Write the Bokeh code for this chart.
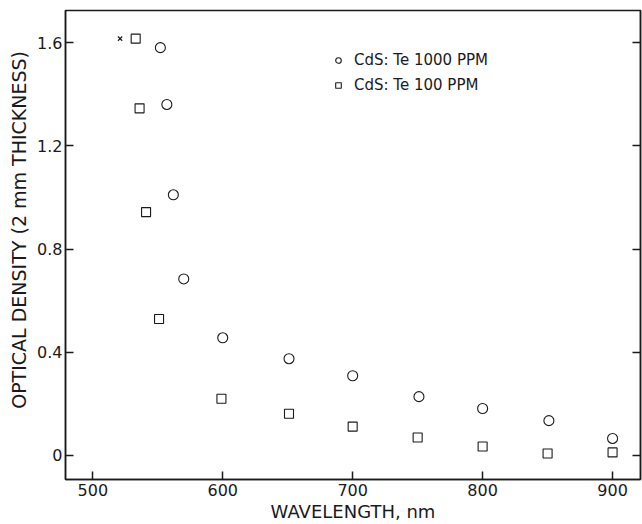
from bokeh.plotting import figure
from bokeh.models import Legend, LegendItem, LinearAxis, FixedTicker, Range1d
from bokeh.embed import file_html
from bokeh.resources import INLINE

# Data
wl_1000 = [552, 557, 562, 570, 600, 651, 700, 751, 800, 851, 900]
od_1000 = [1.58, 1.36, 1.01, 0.684, 0.456, 0.375, 0.309, 0.228, 0.182, 0.135, 0.066]

wl_100 = [533, 536, 541, 551, 599, 651, 700, 750, 800, 850, 900]
od_100 = [1.615, 1.345, 0.943, 0.529, 0.22, 0.162, 0.112, 0.07, 0.035, 0.008, 0.012]

wl_x = [521]
od_x = [1.615]

x_ticks = [500, 600, 700, 800, 900]
y_ticks = [0, 0.4, 0.8, 1.2, 1.6]
y_tick_labels = ["0", "0.4", "0.8", "1.2", "1.6"]

label_1000 = "CdS: Te 1000 PPM"
label_100 = "CdS: Te 100 PPM"

FONT = "DejaVu Sans"
INK = "#1a1a1a"

p = figure(width=642, height=524, output_backend="svg", toolbar_location=None,
           x_range=Range1d(479, 921.5), y_range=Range1d(-0.093, 1.724),
           min_border_left=65, min_border_right=2, min_border_top=10, min_border_bottom=44)

p.grid.visible = False
p.background_fill_color = "white"
p.border_fill_color = "white"
p.outline_line_color = INK
p.outline_line_width = 1.5

r1 = p.scatter(wl_1000, od_1000, marker="circle", size=10, fill_color=None,
               line_color=INK, line_width=1.1)
r2 = p.scatter(wl_100, od_100, marker="square", size=9, fill_color=None,
               line_color=INK, line_width=1.1)
p.scatter(wl_x, od_x, marker="x", size=6, line_color=INK, line_width=1.2)

for ax in (p.xaxis[0], p.yaxis[0]):
    ax.major_tick_in = 8
    ax.major_tick_out = 0
    ax.minor_tick_in = 0
    ax.minor_tick_out = 0
    ax.axis_line_color = INK
    ax.axis_line_width = 1.5
    ax.major_tick_line_color = INK
    ax.major_tick_line_width = 1.5
    ax.major_label_text_font = FONT
    ax.major_label_text_font_size = "16px"
    ax.major_label_text_color = INK
    ax.axis_label_text_font = FONT
    ax.axis_label_text_font_style = "normal"
    ax.axis_label_text_color = INK

p.xaxis[0].axis_label_text_font_size = "18px"
p.yaxis[0].axis_label_text_font_size = "19px"
p.xaxis[0].ticker = FixedTicker(ticks=x_ticks)
p.yaxis[0].ticker = FixedTicker(ticks=y_ticks)
p.yaxis[0].major_label_overrides = {t: s for t, s in zip(y_ticks, y_tick_labels)}
p.xaxis[0].axis_label = "WAVELENGTH, nm"
p.yaxis[0].axis_label = "\u00a0" * 5 + "OPTICAL DENSITY (2 mm THICKNESS)"
p.xaxis[0].major_label_standoff = 4
p.xaxis[0].axis_label_standoff = 2
p.yaxis[0].major_label_standoff = 3
p.yaxis[0].axis_label_standoff = 4

right = LinearAxis(ticker=FixedTicker(ticks=y_ticks))
right.major_tick_in = 8
right.major_tick_out = 0
right.minor_tick_in = 0
right.minor_tick_out = 0
right.axis_line_color = INK
right.axis_line_width = 1.5
right.major_tick_line_color = INK
right.major_tick_line_width = 1.5
right.major_label_overrides = {t: "" for t in y_ticks}
right.major_label_standoff = 0
p.add_layout(right, "right")

legend = Legend(items=[LegendItem(label=label_1000, renderers=[r1]),
                       LegendItem(label=label_100, renderers=[r2])],
                location=(266, 385), orientation="vertical")
legend.border_line_color = None
legend.background_fill_alpha = 0
legend.padding = 0
legend.margin = 0
legend.spacing = 7
legend.glyph_width = 14
legend.glyph_height = 16
legend.label_height = 16
legend.label_standoff = 9
legend.label_text_font = FONT
legend.label_text_font_size = "15px"
legend.label_text_color = INK
p.add_layout(legend, "center")

open("out.html", "w").write(file_html(p, INLINE))
